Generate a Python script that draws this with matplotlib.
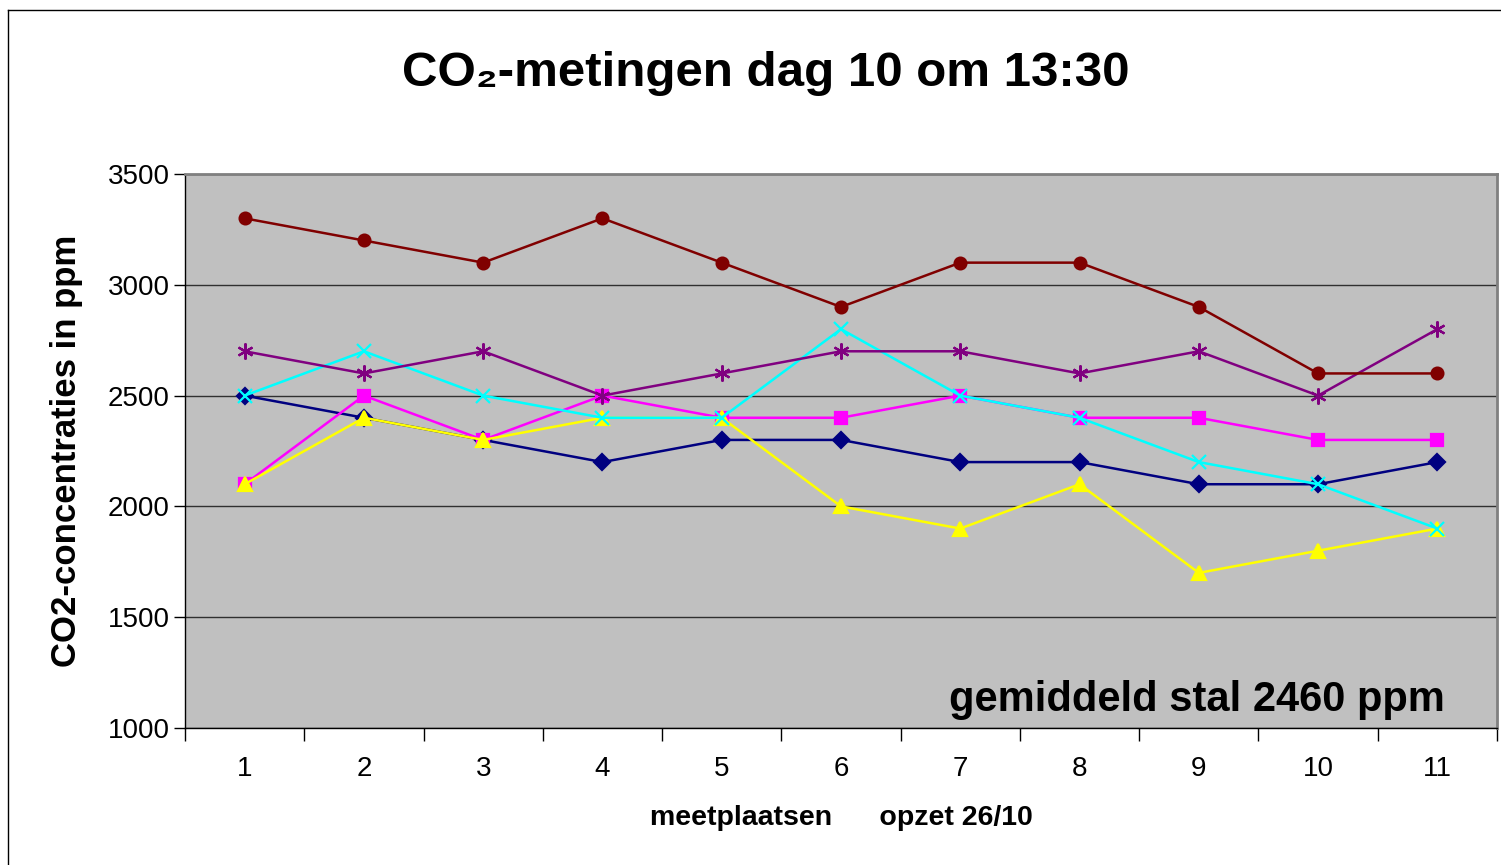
import numpy as np
import matplotlib
matplotlib.use('Agg')
from matplotlib import pyplot as plt
from matplotlib.lines import Line2D

plt.rcParams['font.family'] = ['Liberation Sans', 'DejaVu Sans']

plaatsen = list(range(1, 12))
# Excel reeksen, volgorde van tekenen
navy_ruit = [2500, 2400, 2300, 2200, 2300, 2300, 2200, 2200, 2100, 2100, 2200]
roze_vierkant = [2100, 2500, 2300, 2500, 2400, 2400, 2500, 2400, 2400, 2300, 2300]
geel_driehoek = [2100, 2400, 2300, 2400, 2400, 2000, 1900, 2100, 1700, 1800, 1900]
cyaan_kruis = [2500, 2700, 2500, 2400, 2400, 2800, 2500, 2400, 2200, 2100, 1900]
paars_ster = [2700, 2600, 2700, 2500, 2600, 2700, 2700, 2600, 2700, 2500, 2800]
rood_rondje = [3300, 3200, 3100, 3300, 3100, 2900, 3100, 3100, 2900, 2600, 2600]

reeksen = [
    (navy_ruit, '#000080', 'D', 8.5),
    (roze_vierkant, '#FF00FF', 's', 8),
    (geel_driehoek, '#FFFF00', '^', 9.5),
    (cyaan_kruis, '#00FFFF', 'x', 9.5),
    (paars_ster, '#800080', (6, 2, 0), 11.5),
    (rood_rondje, '#800000', 'o', 8.5),
]

fig = plt.figure(figsize=(15.01, 8.65), dpi=100)
ax = fig.add_axes([185 / 1501, 137 / 865, 1312 / 1501, 554 / 865])
ax.set_facecolor('#C0C0C0')

for waarden, kleur, marker, ms in reeksen:
    ax.plot(plaatsen, waarden, color=kleur, lw=1.8, marker=marker, ms=ms,
            mec=kleur, mfc=kleur, mew=1.6)

ax.set_xlim(0.5, 11.5)
ax.set_ylim(1000, 3500)
ax.set_yticks(np.arange(1000, 3501, 500))
ax.yaxis.grid(True, color='#303030', lw=1)
ax.set_axisbelow(True)

ax.set_xticks(plaatsen)
ax.set_xticks(np.arange(0.5, 11.6, 1), minor=True)
ax.tick_params(axis='x', which='major', length=0, labelsize=20, pad=20)
ax.tick_params(axis='x', which='minor', length=9, width=1, direction='out')
ax.tick_params(axis='y', length=8, width=1, labelsize=20, pad=3)

for kant in ['top', 'right']:
    ax.spines[kant].set_color('#808080')
    ax.spines[kant].set_linewidth(2)
for kant in ['left', 'bottom']:
    ax.spines[kant].set_color('black')
    ax.spines[kant].set_linewidth(1)

ax.set_ylabel('CO2-concentraties in ppm', fontsize=25, fontweight='bold')
ax.yaxis.set_label_coords(-(185 - 67) / 1312, (728 - 451) / 554)
ax.set_xlabel('meetplaatsen      opzet 26/10', fontsize=20.5, fontweight='bold')
ax.xaxis.set_label_coords((841 - 185) / 1312, -(818 - 728) / 554)
ax.xaxis.label.set_va('center')
ax.yaxis.label.set_va('center')

ax.text(0.96, 0.03, 'gemiddeld stal 2460 ppm', transform=ax.transAxes,
        ha='right', va='baseline', fontsize=30, fontweight='bold')

fig.text(766 / 1501, 1 - 73 / 865, 'CO₂-metingen dag 10 om 13:30', ha='center', va='center',
         fontsize=35.5, fontweight='bold')

# kader om de grafiek
fig.add_artist(Line2D([8 / 1501, 1], [1 - 10 / 865] * 2, color='black', lw=1))
fig.add_artist(Line2D([8 / 1501] * 2, [0, 1 - 10 / 865], color='black', lw=1))

fig.savefig('out.png', dpi=100)
